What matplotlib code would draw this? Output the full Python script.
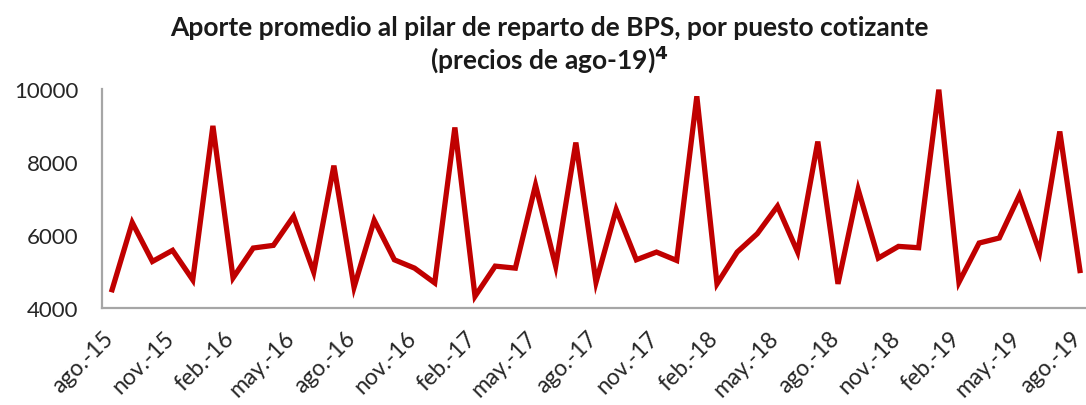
import matplotlib
matplotlib.use("Agg")
import matplotlib.pyplot as plt
import matplotlib.transforms as mtransforms
import numpy as np

# monthly values, ago-15 .. ago-19
values = [4500, 6340, 5275, 5580, 4770, 8990, 4826, 5643, 5716, 6513,
          4982, 7900, 4569, 6403, 5321, 5092, 4688, 8946, 4321, 5147,
          5092, 7367, 5147, 8533, 4706, 6697, 5321, 5532, 5303, 9800,
          4661, 5532, 6037, 6789, 5532, 8560, 4661, 7248, 5367, 5688,
          5651, 9982, 4706, 5780, 5918, 7091, 5532, 8836, 5027]
tick_labels = ["ago.-15", "nov.-15", "feb.-16", "may.-16", "ago.-16", "nov.-16",
               "feb.-17", "may.-17", "ago.-17", "nov.-17", "feb.-18", "may.-18",
               "ago.-18", "nov.-18", "feb.-19", "may.-19", "ago.-19"]
y_ticks = [4000, 6000, 8000, 10000]

plt.rcParams["font.family"] = ["Lato", "DejaVu Sans"]

fig = plt.figure(figsize=(10.86, 4.06), dpi=100)
ax = fig.add_axes([102 / 1086, 1 - 309 / 406, 1 - 102 / 1086, (309 - 90) / 406])

x = np.arange(len(values))
ax.plot(x, values, color="#C00000", linewidth=3.8, solid_joinstyle="miter")

ax.set_ylim(4000, 10000)
ax.set_yticks(y_ticks)
ax.set_yticklabels([str(v) for v in y_ticks], fontsize=16, color="#262626")
ax.set_xlim(-0.5, 48.3)
ax.set_xticks(x[::3])
ax.set_xticklabels(tick_labels, rotation=45, ha="right", va="center",
                   rotation_mode="anchor", fontsize=16.5, color="#262626")
ax.tick_params(axis="y", length=0, pad=17)
ax.tick_params(axis="x", length=0, pad=19)
shift = mtransforms.ScaledTranslation(-2 / 100, 0, fig.dpi_scale_trans)
for lab in ax.get_xticklabels():
    lab.set_transform(lab.get_transform() + shift)

for side in ("top", "right"):
    ax.spines[side].set_visible(False)
for side in ("left", "bottom"):
    ax.spines[side].set_color("#A6A6A6")
    ax.spines[side].set_linewidth(1.6)

fig.text(0.5055, 0.93, "Aporte promedio al pilar de reparto de BPS, por puesto cotizante",
         ha="center", va="center", fontsize=19, fontweight="bold", color="#1A1A1A")
fig.text(0.5055, 0.855, r"(precios de ago-19)$^{\mathbf{4}}$",
         ha="center", va="center", fontsize=19, fontweight="bold", color="#1A1A1A")

fig.savefig("out.png", dpi=100)
